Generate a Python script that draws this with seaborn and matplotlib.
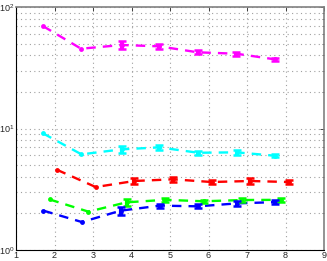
import matplotlib
matplotlib.use("Agg")
import matplotlib.pyplot as plt
import seaborn as sns
import pandas as pd
import numpy as np
from matplotlib.ticker import LogLocator, FixedLocator

# ---- data ----
series_names = ["magenta", "cyan", "red", "green", "blue"]
x_magenta = [1.70, 2.69, 3.74, 4.72, 5.72, 6.72, 7.73]
y_magenta = [69.7, 45.4, 48.7, 47.5, 42.4, 41.3, 37.1]
e_magenta = [0, 0, 3.9, 2.4, 1.7, 1.7, 1.1]

x_cyan = [1.70, 2.70, 3.74, 4.72, 5.73, 6.73, 7.73]
y_cyan = [9.13, 6.13, 6.74, 7.00, 6.32, 6.37, 5.97]
e_cyan = [0, 0, 0.40, 0.35, 0.25, 0.30, 0.18]

x_red = [2.06, 3.07, 4.07, 5.07, 6.08, 7.08, 8.08]
y_red = [4.58, 3.30, 3.70, 3.82, 3.63, 3.70, 3.63]
e_red = [0, 0, 0.22, 0.19, 0.15, 0.18, 0.15]

x_green = [1.87, 2.88, 3.87, 4.88, 5.87, 6.88, 7.88]
y_green = [2.61, 2.07, 2.47, 2.59, 2.52, 2.58, 2.59]
e_green = [0, 0, 0.17, 0.10, 0.08, 0.10, 0.10]

x_blue = [1.71, 2.71, 3.72, 4.74, 5.73, 6.73, 7.73]
y_blue = [2.11, 1.70, 2.11, 2.32, 2.29, 2.42, 2.48]
e_blue = [0, 0, 0.15, 0.09, 0.09, 0.10, 0.10]

x_ticks = [1, 2, 3, 4, 5, 6, 7, 8, 9]

colors = {"magenta": "#ff00ff", "cyan": "#00ffff", "red": "#ff0000",
          "green": "#00ff00", "blue": "#0000ff"}

xs = [x_magenta, x_cyan, x_red, x_green, x_blue]
ys = [y_magenta, y_cyan, y_red, y_green, y_blue]
es = [e_magenta, e_cyan, e_red, e_green, e_blue]

rows = []
for n, xv, yv, ev in zip(series_names, xs, ys, es):
    for a, b, c in zip(xv, yv, ev):
        rows.append({"series": n, "x": a, "y": b, "err": c})
df = pd.DataFrame(rows)

sns.set_style("white")
plt.rcParams['font.family'] = ['Liberation Sans', 'DejaVu Sans']

fig = plt.figure(figsize=(3.27, 2.61), dpi=100)
ax = fig.add_axes([0.049, 0.042, 0.942, 0.931])

sns.lineplot(data=df, x="x", y="y", hue="series", palette=colors,
             linestyle="--", linewidth=1.7, marker="o", markersize=3.5,
             markeredgewidth=0, legend=False, ax=ax, estimator=None, sort=False)
for ln in ax.get_lines():
    ln.set_dashes([4, 3])

for n in series_names:
    d = df[(df.series == n) & (df.err > 0)]
    ax.errorbar(d.x, d.y, yerr=d.err, fmt="none", ecolor=colors[n],
                elinewidth=3.0, capsize=3, capthick=1.8, zorder=3)

ax.set_yscale("log")
ax.set_xlim(1, 9)
ax.set_ylim(1, 100)
ax.xaxis.set_major_locator(FixedLocator(x_ticks))
ax.set_xticklabels([str(t) for t in x_ticks])
ax.yaxis.set_major_locator(LogLocator(base=10, numticks=10))
ax.yaxis.set_minor_locator(LogLocator(base=10, subs=np.arange(2, 10), numticks=20))
ax.set_xlabel("")
ax.set_ylabel("")

ax.grid(True, which="major", linestyle=(0, (1, 3)), color="#a0a0a0", linewidth=0.8)
ax.grid(True, which="minor", axis="y", linestyle=(0, (1, 3)), color="#a0a0a0", linewidth=0.8)
ax.set_axisbelow(True)

ax.tick_params(axis="both", which="both", direction="in", labelsize=6.5,
               top=True, right=True, pad=1)
ax.tick_params(axis="both", which="major", length=3, width=0.6)
ax.tick_params(axis="y", which="minor", length=1.5, width=0.5)
for s in ["left", "bottom"]:
    ax.spines[s].set_color("black")
    ax.spines[s].set_linewidth(0.8)
for s in ["top", "right"]:
    ax.spines[s].set_color("#808080")
    ax.spines[s].set_linewidth(1.2)

fig.savefig("out.png", dpi=100)
